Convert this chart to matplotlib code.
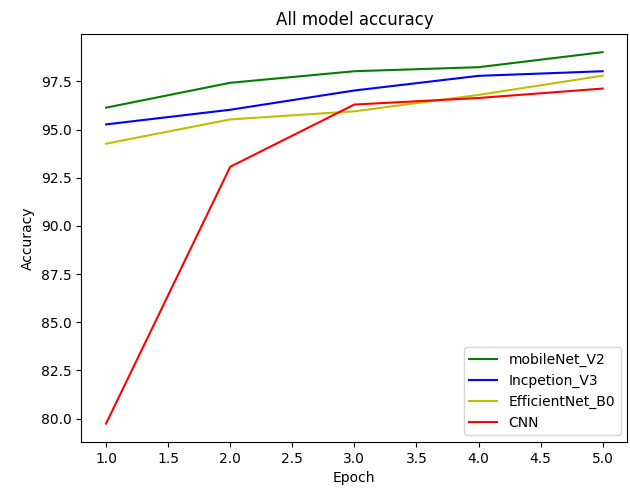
import matplotlib.pyplot as plt

epochs = [1, 2, 3, 4, 5]
mobilenet_v2 = [96.14, 97.43, 98.03, 98.24, 99.02]
inception_v3 = [95.27, 96.03, 97.03, 97.79, 98.03]
efficientnet_b0 = [94.27, 95.53, 95.95, 96.8, 97.8]
cnn = [79.74, 93.07, 96.3, 96.64, 97.13]

fig, ax = plt.subplots(figsize=(6.3, 4.94), dpi=100)
fig.subplots_adjust(left=0.129, right=0.996, top=0.932, bottom=0.105)

ax.plot(epochs, mobilenet_v2, color='g', label='mobileNet_V2')
ax.plot(epochs, inception_v3, color='b', label='Incpetion_V3')
ax.plot(epochs, efficientnet_b0, color='y', label='EfficientNet_B0')
ax.plot(epochs, cnn, color='r', label='CNN')

ax.set_title('All model accuracy')
ax.set_xlabel('Epoch')
ax.set_ylabel('Accuracy')
ax.legend(loc='lower right')

plt.savefig('out.png')
